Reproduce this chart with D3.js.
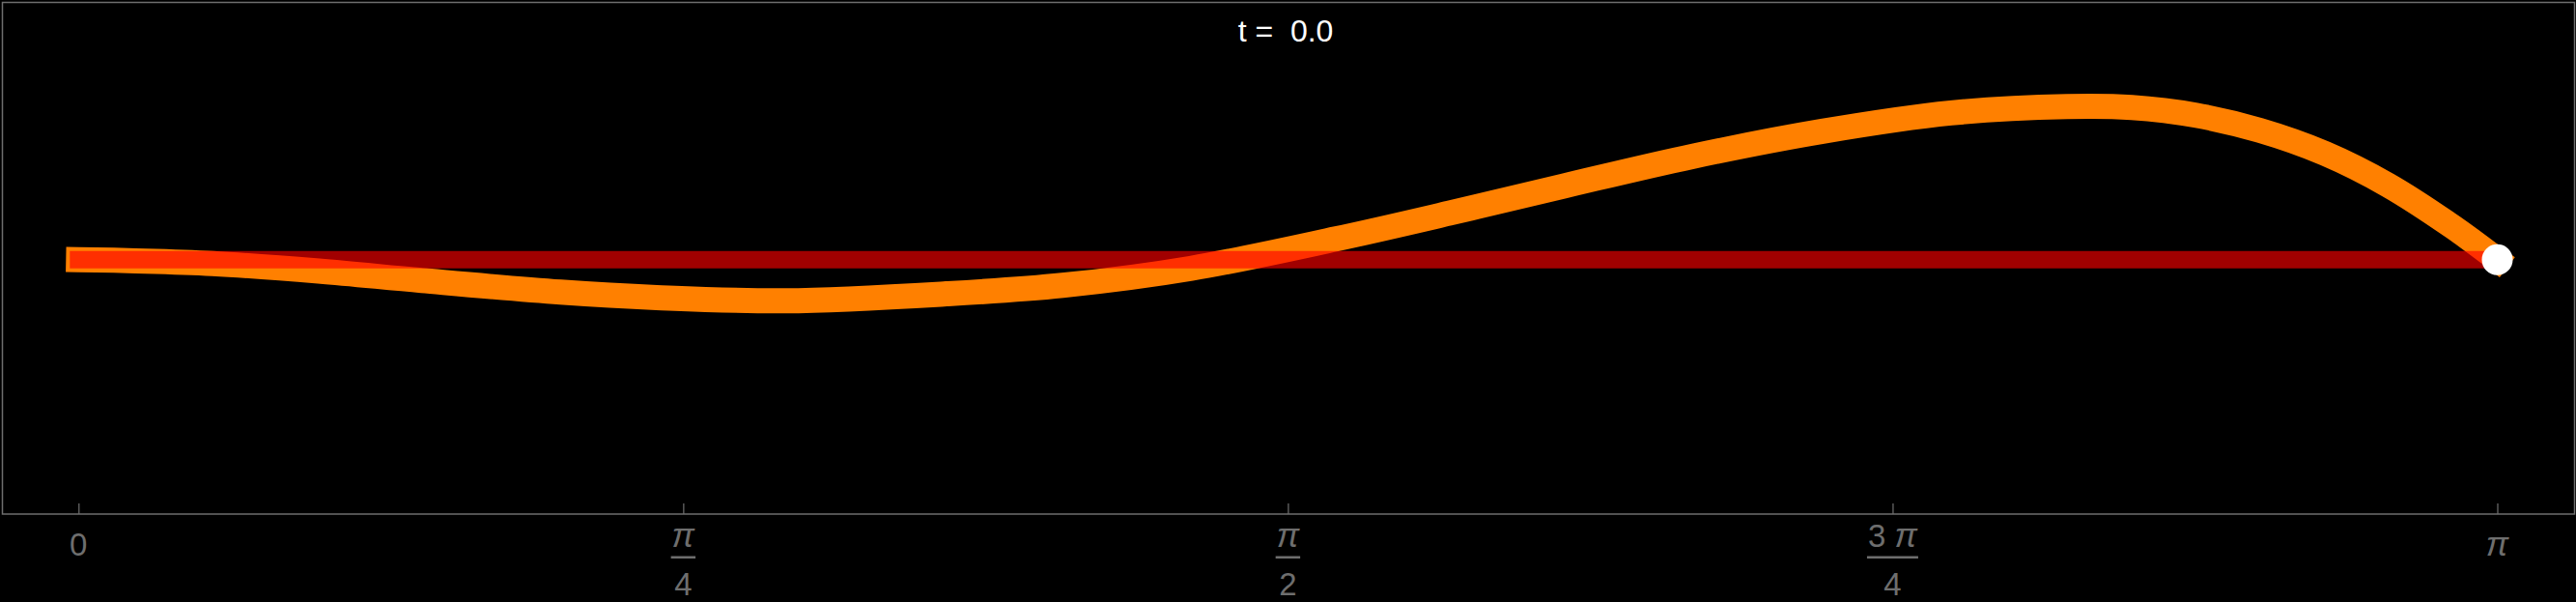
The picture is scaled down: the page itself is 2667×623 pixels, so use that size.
<!DOCTYPE html>
<html>
<head>
<meta charset="utf-8">
<script src="https://cdn.jsdelivr.net/npm/d3@7"></script>
<style>
  html, body { margin: 0; padding: 0; background: #000; }
  svg { display: block; }
  text { font-family: "Liberation Sans", Arial, sans-serif; }
</style>
</head>
<body>
<svg id="chart" width="2667" height="623"></svg>
<script>
// ---- data ----
const titleLabel = "t =\u00a0 0.0";
// orange curve (displacement), x in radians
const curveX = [0, 0.074, 0.174, 0.312, 0.446, 0.626, 0.751, 0.918, 1.127, 1.278, 1.445, 1.633, 1.780, 1.930, 2.097, 2.265, 2.432, 2.583, 2.667, 2.750, 2.833, 2.918, 3.000, 3.084, Math.PI];
const curveY = [0, -0.006, -0.020, -0.059, -0.108, -0.168, -0.196, -0.213, -0.177, -0.133, -0.045, 0.107, 0.240, 0.382, 0.535, 0.664, 0.759, 0.792, 0.787, 0.747, 0.669, 0.549, 0.385, 0.169, 0];
// red equilibrium line
const restX = [0, Math.PI];
const restY = [0, 0];
// end point marker
const endPoint = [Math.PI, 0];
// x ticks
const tickValues = [0, Math.PI / 4, Math.PI / 2, 3 * Math.PI / 4, Math.PI];
const tickCoef = ["0", "", "", "3 ", ""];
const tickPi = [false, true, true, true, true];
const tickDen = [null, "4", "2", "4", null];

// ---- layout ----
const W = 2667, H = 623;
const frame = { left: 2.5, top: 2.5, right: 2665.5, bottom: 532 };
const x = d3.scaleLinear().domain([0, Math.PI]).range([81.3, 2585.5]);
const y = d3.scaleLinear().domain([-1, 1]).range([468.7, 68.7]);
const grey = "#6e6e6e";

const svg = d3.select("#chart");
svg.append("rect").attr("width", W).attr("height", H).attr("fill", "#000");

// frame
svg.append("rect")
  .attr("x", frame.left).attr("y", frame.top)
  .attr("width", frame.right - frame.left).attr("height", frame.bottom - frame.top)
  .attr("fill", "none").attr("stroke", grey).attr("stroke-width", 1.5);

// axis ticks
const axis = d3.axisBottom(x).tickValues(tickValues).tickSizeInner(-11).tickSizeOuter(0).tickFormat("");
const gAx = svg.append("g").attr("transform", `translate(0,${frame.bottom})`).call(axis);
gAx.select(".domain").remove();
gAx.selectAll(".tick line").attr("stroke", grey).attr("stroke-width", 1.2);

// tick labels
const labels = svg.append("g").attr("fill", grey).attr("font-size", 33).attr("text-anchor", "middle");
function numText(i, yy) {
  const t = labels.append("text").attr("x", x(tickValues[i])).attr("y", yy);
  if (tickCoef[i]) t.append("tspan").text(tickCoef[i]);
  if (tickPi[i]) t.append("tspan").attr("font-style", "italic").attr("font-size", 35).text("π");
  return t;
}
tickValues.forEach((v, i) => {
  const cx = x(v);
  if (tickDen[i] === null) {
    numText(i, 575);
  } else {
    const num = numText(i, 566);
    const bw = num.node().getComputedTextLength();
    labels.append("rect").attr("x", cx - bw / 2 - 1).attr("y", 575.5).attr("width", bw + 2).attr("height", 2.5);
    labels.append("text").attr("x", cx).attr("y", 616).text(tickDen[i]);
  }
});

// orange curve
const line = d3.line().x((d, i) => x(curveX[i])).y((d, i) => y(curveY[i])).curve(d3.curveCatmullRom.alpha(0.5));
svg.append("path").datum(curveY).attr("d", line)
  .attr("fill", "none").attr("stroke", "#ff8000").attr("stroke-width", 26)
  .attr("stroke-linecap", "square").attr("stroke-linejoin", "round");

// red rest line
const rline = d3.line().x((d, i) => x(restX[i])).y((d, i) => y(restY[i]));
svg.append("path").datum(restY).attr("d", rline)
  .attr("fill", "none").attr("stroke", "#ff0000").attr("stroke-opacity", 0.63)
  .attr("stroke-width", 18).attr("stroke-linecap", "square");

// end point
svg.append("circle").attr("cx", x(endPoint[0])).attr("cy", y(endPoint[1])).attr("r", 16).attr("fill", "#fff");

// title
svg.append("text").attr("x", 1331).attr("y", 43).attr("text-anchor", "middle")
  .attr("fill", "#fff").attr("font-size", 32).text(titleLabel);
</script>
</body>
</html>
